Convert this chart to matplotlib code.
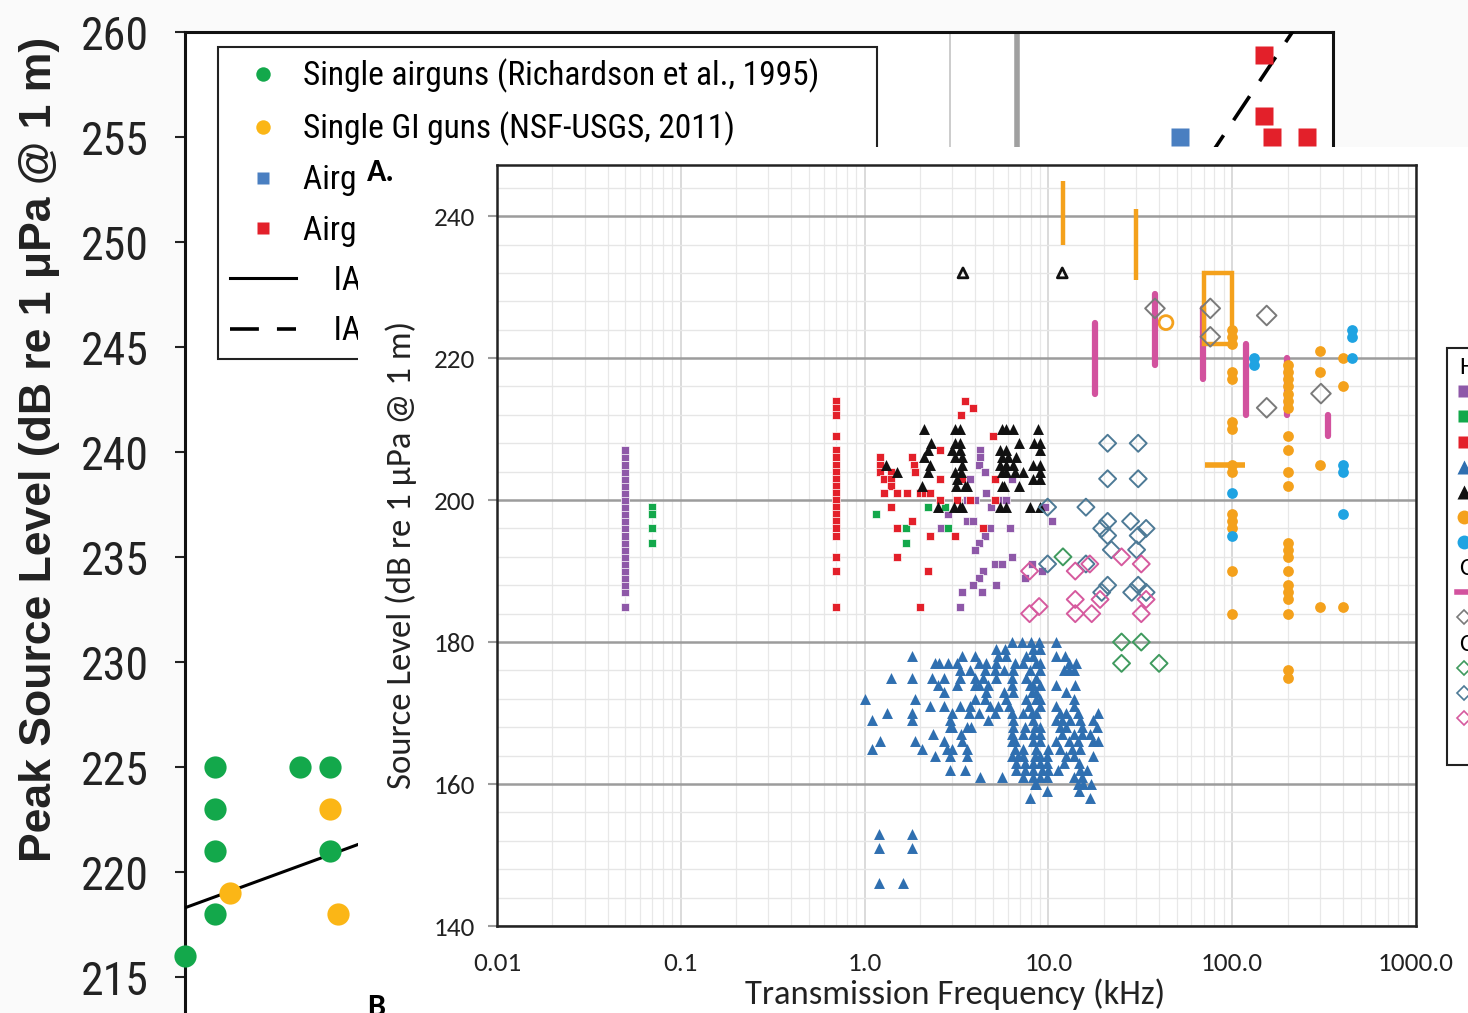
import numpy as np
import matplotlib
matplotlib.use('Agg')
import matplotlib.pyplot as plt
from matplotlib.lines import Line2D
from matplotlib.patches import Rectangle
from matplotlib.ticker import FixedLocator, FixedFormatter, LogLocator, MultipleLocator, NullFormatter

# ---------------- background panel: peak source level ----------------
bg_level_ticks = [215, 220, 225, 230, 235, 240, 245, 250, 255, 260]
single_airgun_x = [0.0, 2.6, 2.6, 2.6, 2.6, 10.0, 12.6, 12.6]
single_airgun_db = [216, 225, 223, 221, 218, 225, 225, 221]
single_gi_x = [3.9, 12.6, 13.3]
single_gi_db = [219, 223, 218]
array_blue_x = [86.7]
array_blue_db = [255]
array_red_x = [94.0, 94.0, 94.7, 97.7]
array_red_db = [258.9, 256, 255, 255]
fit_solid_x = [0, 100]
fit_solid_db = [218.3, 238.3]
fit_dashed_x = [80, 100]
fit_dashed_db = [246.5, 262.9]
ref_thin_x = 66.6
ref_thick_x = 72.5
bg_labels = ['Single airguns (Richardson et al., 1995)      ',
             'Single GI guns (NSF-USGS, 2011)',
             'Airgun arrays', 'Airgun arrays',
             '    IAGC', '    IAGC']

# ---------------- inset panel: source level vs frequency ----------------
freq_ticks = [0.01, 0.1, 1, 10, 100, 1000]
freq_tick_labels = ['0.01', '0.1', '1.0', '10.0', '100.0', '1000.0']
level_ticks = [140, 160, 180, 200, 220, 240]

purple_col_khz = 0.05
purple_col_db = [185, 187, 188, 189, 190, 191, 192, 193, 194, 195, 196, 197,
                 198, 199, 200, 201, 202, 203, 204, 205, 206, 207]
purple_khz = [4.25, 4.25, 4.2, 4.5, 3.74, 6.3, 4.6, 3.6, 4.0, 5.45, 5.9, 4.9,
              9.6, 10.4, 2.85, 3.6, 3.9, 2.6, 4.8, 6.2, 4.5, 4.2, 4.0, 6.3,
              5.1, 5.6, 8.1, 9.2, 4.4, 4.2, 3.9, 5.2, 3.4, 4.35, 3.3, 7.45]
purple_db = [207, 206, 205, 204, 203, 203, 201, 200, 200, 200, 200, 199,
             199, 197, 198, 197, 197, 196, 196, 196, 195, 194, 193, 192,
             191, 191, 191, 190, 190, 189, 188, 188, 187, 187, 185, 189]

green_col_khz = 0.07
green_col_db = [199, 198, 196, 194]
green_khz = [1.16, 2.2, 2.75, 1.67, 2.85, 1.67]
green_db = [198, 199, 199, 196, 196, 194]

red_col_khz = 0.70
red_col_db = [214, 213, 212, 209, 207, 206, 205, 204, 203, 202, 201, 200,
              199, 198, 197, 196, 195, 192, 190, 185]
red_khz = [3.5, 3.9, 3.35, 5.0, 2.57, 1.21, 1.82, 1.85, 1.21, 1.21, 1.4, 1.88,
           1.28, 1.4, 2.57, 3.4, 5.1, 1.4, 1.28, 1.5, 1.7, 2.0, 2.13, 2.27,
           2.57, 3.2, 3.74, 5.1, 1.4, 1.82, 1.5, 2.27, 3.1, 4.4, 1.5, 2.2, 2.0]
red_db = [214, 213, 212, 209, 207, 206, 206, 205, 205, 204, 204, 204,
          203, 203, 203, 203, 203, 202, 201, 201, 201, 201, 201, 201,
          200, 200, 200, 200, 199, 197, 196, 195, 195, 196, 192, 190, 185]

# blue filled triangles, one row per level (dB): frequencies in kHz
blue_tri_rows = [
    (180, [6.3, 7.2, 8.0, 8.9, 11.0]),
    (179, [5.2, 5.8, 8.2, 9.0]),
    (178, [1.82, 3.4, 4.0, 5.3, 5.9, 7.6, 8.2, 11.0, 12.3]),
    (177, [2.42, 2.55, 2.85, 3.2, 4.2, 4.6, 5.2, 6.6, 7.3, 8.6, 9.0, 12.9, 14.2]),
    (176, [3.3, 3.74, 4.5, 5.1, 5.7, 6.4, 7.9, 9.0, 12.1, 12.9, 13.7]),
    (175, [1.40, 1.82, 2.32, 2.7, 3.3, 4.0, 4.4, 5.2, 6.3, 7.6, 8.6]),
    (174, [2.5, 3.2, 4.0, 4.2, 4.7, 6.3, 7.9, 8.2, 9.0, 11.0, 14.0]),
    (173, [2.7, 4.6, 5.7, 6.4, 8.1, 8.6, 12.5]),
    (172, [1.0, 1.88, 4.0, 4.5, 5.9, 7.6, 8.6, 9.0, 13.7]),
    (171, [2.27, 2.7, 3.3, 3.74, 4.8, 5.3, 6.1, 7.8, 9.0, 11.0, 13.7]),
    (170, [1.32, 1.82, 3.0, 3.7, 4.2, 5.1, 6.3, 7.3, 8.1, 8.6, 11.6, 12.5, 14.4, 18.6]),
    (169, [1.10, 1.82, 2.9, 4.7, 6.4, 8.2, 11.0, 11.8, 13.1, 14.9, 17.5]),
    (168, [2.9, 3.0, 3.6, 3.8, 6.4, 7.45, 8.45, 9.0, 11.6, 12.5, 15.2, 18.3]),
    (167, [2.37, 3.35, 6.3, 7.3, 8.2, 9.0, 11.8, 13.7, 15.2, 16.8]),
    (166, [1.21, 1.88, 2.7, 3.4, 6.3, 6.6, 8.2, 9.0, 11.0, 12.9, 14.4, 17.5, 18.6]),
    (165, [1.10, 2.05, 2.8, 3.0, 3.6, 6.6, 7.3, 8.6, 10.0, 11.6, 13.4, 14.9]),
    (164, [2.42, 2.9, 3.6, 6.3, 6.8, 7.3, 8.45, 9.0, 9.8, 12.5, 13.7, 17.5]),
    (163, [6.7, 7.45, 8.2, 9.0, 9.8, 12.1, 14.7]),
    (162, [2.9, 3.5, 6.7, 7.45, 8.2, 9.2, 10.0, 11.3, 14.9, 16.2]),
    (161, [4.25, 5.6, 7.3, 8.2, 9.0, 9.8, 13.7, 15.2]),
    (160, [8.45, 8.6, 14.4, 15.5, 17.1]),
    (159, [9.8, 14.7]),
    (158, [7.9, 16.8]),
    (153, [1.2, 1.81]),
    (151, [1.2, 1.81]),
    (146, [1.2, 1.62]),
]

# black filled triangles, one row per level (dB)
black_tri_rows = [
    (210, [2.1, 3.1, 3.3, 5.6, 5.9, 6.4, 8.8]),
    (208, [2.3, 3.1, 3.3, 6.9, 8.3, 9.0]),
    (207, [2.2, 3.0, 3.3, 5.45, 5.9, 9.0]),
    (206, [2.1, 3.1, 3.4, 5.6, 6.0, 6.7]),
    (205, [1.3, 2.27, 3.4, 5.45, 5.9, 6.4, 8.2, 9.0]),
    (204, [1.5, 2.2, 3.1, 3.35, 5.6, 5.9, 6.6, 7.3, 9.0]),
    (203, [3.2, 8.2, 9.0]),
    (202, [2.05, 3.15, 3.5, 3.6, 5.6, 5.7, 6.9]),
    (199, [2.5, 3.05, 3.3, 3.4, 5.45, 5.9, 7.9, 9.0]),
]
open_tri_khz = [3.43, 11.9]
open_tri_db = [232, 232]

# orange filled circles, one column per frequency (kHz): levels in dB
orange_cols = [
    (100, [224, 223, 222, 218, 217, 211, 210, 205, 204, 198, 197, 196, 190, 184]),
    (200, [219, 218, 217, 216, 215, 214, 213, 209, 207, 204, 202, 194, 193, 192,
           190, 188, 187, 186, 184, 176, 175]),
    (300, [221, 218, 205, 185]),
    (400, [220, 216, 185]),
]
cyan_khz = [100, 100, 132, 132, 400, 400, 400, 450, 450, 450]
cyan_db = [201, 195, 220, 219, 205, 204, 198, 224, 223, 220]

magenta_khz = [17.9, 38, 69.7, 119, 198, 331]
magenta_lo = [215, 219, 217, 212, 212, 209]
magenta_hi = [225, 229, 227, 222, 220, 212]

orange_bar_khz = [12.05, 30]
orange_bar_lo = [236, 231]
orange_bar_hi = [245, 241]
orange_hbar_db = 205
orange_hbar_khz = (71, 117)
orange_box_khz = (70, 100)
orange_box_db = (222, 232)
orange_ring_khz = [43.6]
orange_ring_db = [225]

gray_dia_khz = [38, 76, 76, 154, 154, 304]
gray_dia_db = [227, 227, 223, 226, 213, 215]
blue_dia_khz = [21, 30.8, 21, 30.8, 9.9, 16, 21, 28, 34, 19.5, 21, 30.8, 22, 30.2,
                9.9, 16, 21, 19.5, 30.8, 28.4, 34]
blue_dia_db = [208, 208, 203, 203, 199, 199, 197, 197, 196, 196, 195, 195, 193, 193,
               191, 191, 188, 187, 188, 187, 187]
green_dia_khz = [12, 25, 32, 25, 40]
green_dia_db = [192, 180, 180, 177, 177]
pink_dia_khz = [7.9, 7.9, 8.9, 14, 16.8, 14, 14, 17.2, 19.1, 25, 32, 34, 32]
pink_dia_db = [190, 184, 185, 190, 191, 186, 184, 184, 186, 192, 191, 186, 184]

# colours
C_PURPLE = '#8e58a8'
C_GREEN = '#13a84b'
C_RED = '#e3202a'
C_BLUE = '#2f6fb0'
C_ORANGE = '#f4a11c'
C_CYAN = '#1fa3e2'
C_MAGENTA = '#d2529e'

W, H = 1468, 1013
NARROW = ['Roboto Condensed', 'DejaVu Sans']
SANS = ['Carlito', 'Lato', 'DejaVu Sans']

fig = plt.figure(figsize=(W / 100, H / 100), dpi=100, facecolor='#fafafa')

# ---------- background axes ----------
ax = fig.add_axes([185 / W, 0, (1333 - 185) / W, 1 - 32 / H], zorder=0)
ax.set_facecolor('white')
ax.set_xlim(0, 100)
ax.set_ylim(213.29, 260)
ax.axvline(ref_thin_x, color='#c4c4c4', lw=1.2, zorder=1)
ax.axvline(ref_thick_x, color='#a0a0a0', lw=4, zorder=1)
l1, = ax.plot(single_airgun_x, single_airgun_db, 'o', color=C_GREEN, ms=16, mec='none',
              clip_on=False, zorder=4)
l2, = ax.plot(single_gi_x, single_gi_db, 'o', color='#fbb616', ms=16, mec='none', zorder=4)
l3, = ax.plot(array_blue_x, array_blue_db, 's', color='#4a7fc1', ms=13, mec='none', zorder=4)
l4, = ax.plot(array_red_x, array_red_db, 's', color=C_RED, ms=13, mec='none', zorder=4)
l5, = ax.plot(fit_solid_x, fit_solid_db, '-', color='black', lw=2.2, zorder=3)
l6, = ax.plot(fit_dashed_x, fit_dashed_db, '--', color='black', lw=2.6, dashes=(8, 5), zorder=3)
for side in ['left', 'top', 'right']:
    ax.spines[side].set_linewidth(2.2)
    ax.spines[side].set_color('#111111')
ax.spines['bottom'].set_visible(False)
ax.set_xticks([])
ax.set_yticks(bg_level_ticks)
ax.tick_params(axis='y', length=7, width=1.5, pad=19, labelsize=33, colors='#222222')
for t in ax.get_yticklabels():
    t.set_family(NARROW)
ax.set_ylabel('Peak Source Level (dB re 1 \u03bcPa @ 1 m)', fontsize=32,
              fontweight='bold', family=['Liberation Sans', 'DejaVu Sans'], color='#222222')
ax.yaxis.set_label_coords(-0.109, 0.575)
leg = ax.legend([l1, l2, l3, l4, l5, l6], bg_labels, loc='upper left',
                bbox_to_anchor=(218 / W, 1 - 47 / H), bbox_transform=fig.transFigure,
                borderaxespad=0, prop={'family': NARROW, 'size': 24}, markerscale=0.65,
                handlelength=2.0, handletextpad=0.2, labelspacing=0.55, borderpad=0.35,
                fancybox=False, framealpha=1, edgecolor='#222222')
leg.get_frame().set_linewidth(1.5)

# ---------- white panel behind the inset ----------
fig.add_artist(Rectangle((358 / W, 0), 1 - 358 / W, 1 - 147 / H, transform=fig.transFigure,
                         facecolor='white', edgecolor='none', zorder=1))

# ---------- inset axes ----------
ax2 = fig.add_axes([497 / W, 1 - 926 / H, (1416 - 497) / W, (926 - 165) / H], zorder=2)
ax2.set_xscale('log')
ax2.set_xlim(0.01, 1000)
ax2.set_ylim(140, 247.2)
ax2.set_axisbelow(True)
ax2.xaxis.set_major_locator(FixedLocator(freq_ticks))
ax2.xaxis.set_major_formatter(FixedFormatter(freq_tick_labels))
ax2.xaxis.set_minor_locator(LogLocator(base=10, subs=np.arange(2, 10), numticks=30))
ax2.xaxis.set_minor_formatter(NullFormatter())
ax2.set_yticks(level_ticks)
ax2.yaxis.set_minor_locator(MultipleLocator(4))
ax2.grid(which='major', axis='y', color='#9c9c9c', lw=1.8)
ax2.grid(which='minor', axis='y', color='#e6e6e6', lw=1.0)
ax2.grid(which='major', axis='x', color='#d4d4d4', lw=1.2)
ax2.grid(which='minor', axis='x', color='#e8e8e8', lw=0.9)
ax2.tick_params(axis='x', which='both', length=0, pad=19, labelsize=19.5, colors='#222222')
ax2.tick_params(axis='y', which='major', length=6.5, width=1.5, color='#9c9c9c', pad=9,
                labelsize=19.5, labelcolor='#222222')
ax2.tick_params(axis='y', which='minor', length=0)
for t in ax2.get_xticklabels() + ax2.get_yticklabels():
    t.set_family(SANS)
for side in ax2.spines:
    ax2.spines[side].set_linewidth(1.8)
    ax2.spines[side].set_color('#222222')

sq = dict(marker='s', s=32, linewidths=0.5, edgecolors='white')
ax2.scatter([purple_col_khz] * len(purple_col_db), purple_col_db, color=C_PURPLE, **sq)
ax2.scatter(purple_khz, purple_db, color=C_PURPLE, **sq)
ax2.scatter([green_col_khz] * len(green_col_db), green_col_db, color=C_GREEN, **sq)
ax2.scatter(green_khz, green_db, color=C_GREEN, **sq)
ax2.scatter([red_col_khz] * len(red_col_db), red_col_db, color=C_RED, **sq)
ax2.scatter(red_khz, red_db, color=C_RED, **sq)

bt_f = [f for lvl, fs in blue_tri_rows for f in fs]
bt_l = [lvl for lvl, fs in blue_tri_rows for f in fs]
ax2.scatter(bt_f, bt_l, marker='^', s=62, color=C_BLUE, linewidths=0)
kt_f = [f for lvl, fs in black_tri_rows for f in fs]
kt_l = [lvl for lvl, fs in black_tri_rows for f in fs]
ax2.scatter(kt_f, kt_l, marker='^', s=62, color='#111111', linewidths=0)
ax2.scatter(open_tri_khz, open_tri_db, marker='^', s=50, facecolors='none',
            edgecolors='#111111', linewidths=2)

ax2.vlines(magenta_khz, magenta_lo, magenta_hi, colors=C_MAGENTA, lw=4.5, capstyle='round')
ax2.vlines(orange_bar_khz, orange_bar_lo, orange_bar_hi, colors=C_ORANGE, lw=3.2)
ax2.hlines(orange_hbar_db, *orange_hbar_khz, colors=C_ORANGE, lw=4)
ax2.add_patch(Rectangle((orange_box_khz[0], orange_box_db[0]),
                        orange_box_khz[1] - orange_box_khz[0],
                        orange_box_db[1] - orange_box_db[0],
                        facecolor='none', edgecolor=C_ORANGE, lw=3.2, zorder=3))
ax2.scatter(orange_ring_khz, orange_ring_db, marker='o', s=100, facecolors='none',
            edgecolors=C_ORANGE, linewidths=2)
oc_f = [f for f, lv in orange_cols for v in lv]
oc_l = [v for f, lv in orange_cols for v in lv]
ax2.scatter(oc_f, oc_l, marker='o', s=60, color=C_ORANGE, linewidths=0, zorder=3)
ax2.scatter(cyan_khz, cyan_db, marker='o', s=60, color=C_CYAN, linewidths=0, zorder=3)

dia = dict(marker='D', s=75, facecolors='none', linewidths=1.4, zorder=3)
ax2.scatter(gray_dia_khz, gray_dia_db, edgecolors='#7a7a7a', **{**dia, 's': 100})
ax2.scatter(green_dia_khz, green_dia_db, edgecolors='#3f9a5e', **dia)
ax2.scatter(blue_dia_khz, blue_dia_db, edgecolors='#4d7a96', **dia)
ax2.scatter(pink_dia_khz, pink_dia_db, edgecolors='#d65a9e', **dia)

ax2.set_xlabel('Transmission Frequency (kHz)', fontsize=25, family=SANS, color='#222222')
ax2.xaxis.set_label_coords(0.498, -0.069)
ax2.set_ylabel('Source Level (dB re 1 \u00b5Pa @ 1 m)', fontsize=25, family=SANS,
               color='#222222')
ax2.yaxis.set_label_coords(-0.087, 0.4875)

# legend of the inset, only its left edge falls inside the figure
blank = Line2D([], [], linestyle='none')
def mk(m, c, filled=True, ms=8):
    if filled:
        return Line2D([], [], linestyle='none', marker=m, color=c, mec='none', ms=ms)
    return Line2D([], [], linestyle='none', marker=m, mfc='none', mec=c, mew=1.2, ms=ms)

inset_handles = [blank, mk('s', C_PURPLE), mk('s', C_GREEN), mk('s', C_RED),
                 mk('^', C_BLUE, ms=10), mk('^', '#111111', ms=10), mk('o', C_ORANGE, ms=10),
                 mk('o', C_CYAN, ms=10), blank,
                 Line2D([], [], color=C_MAGENTA, lw=4), mk('D', '#7a7a7a', False, 7), blank,
                 mk('D', '#3f9a5e', False, 7), mk('D', '#4d7a96', False, 7),
                 mk('D', '#d65a9e', False, 7), blank]
inset_labels = [' ', 'H-1', 'H-2', 'H-3', 'H-4', 'H-5', 'H-6', 'H-7', ' ',
                'C-1', 'C-2', ' ', 'C-3', 'C-4', 'C-5', ' ']
header_rows = [0, 8, 11]
header_names = ['H', 'C', 'C']
leg2 = ax2.legend(inset_handles, inset_labels, loc='upper left',
                  bbox_to_anchor=(1447 / W, 1 - 348 / H), bbox_transform=fig.transFigure,
                  borderaxespad=0, prop={'family': SANS, 'size': 16}, handlelength=0.6,
                  handletextpad=0.6, labelspacing=0.23, borderpad=0.45, fancybox=False,
                  framealpha=1, edgecolor='#222222')
leg2.get_frame().set_linewidth(1.5)

fig.canvas.draw()
for row, name in zip(header_rows, header_names):
    bb = leg2.get_texts()[row].get_window_extent()
    fig.text(1459 / W, (bb.y0 + bb.y1) / 2 / H, name, fontsize=18, family=SANS,
             va='center', ha='left', zorder=5)

fig.text(367 / W, 1 - 172 / H, 'A.', fontsize=23, fontweight='bold', family=SANS,
         va='center', ha='left', zorder=5)
fig.text(367 / W, 1 - 993 / H, 'B', fontsize=23, fontweight='bold', family=SANS,
         va='top', ha='left', zorder=5)

fig.savefig('out.png', dpi=100, facecolor=fig.get_facecolor())
